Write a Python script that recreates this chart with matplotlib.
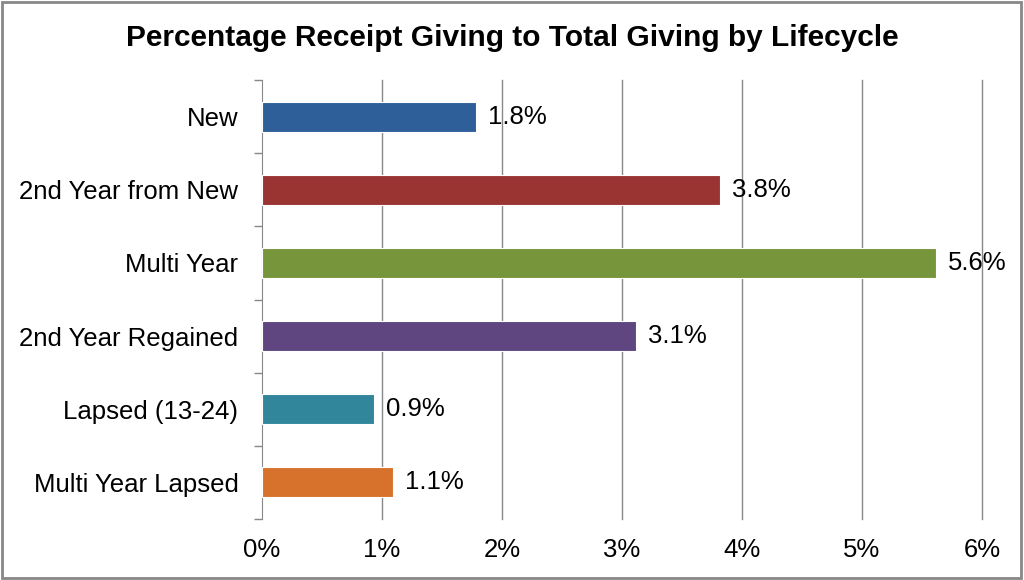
import matplotlib
matplotlib.use("Agg")
import matplotlib.pyplot as plt
from matplotlib.patches import Rectangle
from matplotlib.ticker import FixedLocator

plt.rcParams["font.family"] = ["Liberation Sans", "DejaVu Sans"]

categories = ["New", "2nd Year from New", "Multi Year", "2nd Year Regained",
              "Lapsed (13-24)", "Multi Year Lapsed"]
values = [1.78, 3.82, 5.62, 3.12, 0.93, 1.09]
colors = ["#2F5F98", "#9A3432", "#77963B", "#5F4680", "#31869B", "#D6722B"]
xticks = [0, 1, 2, 3, 4, 5, 6]

fig = plt.figure(figsize=(10.24, 5.8), dpi=100)
ax = fig.add_axes([262/1024, 1 - 519/580, 720/1024, 439/580])

y = list(range(len(categories)))
ax.barh(y, values, height=0.41, color=colors, edgecolor="white", linewidth=0.8, zorder=3)
for yi, v in zip(y, values):
    ax.text(v + 0.1, yi, f"{v:.1f}%", va="center", ha="left", fontsize=18.5, zorder=4)

ax.set_xlim(0, 6)
ax.set_ylim(len(categories) - 0.5, -0.5)
ax.set_xticks(xticks)
ax.set_xticklabels([f"{t}%" for t in xticks], fontsize=18.5)
ax.set_yticks(y)
ax.set_yticklabels(categories, fontsize=18.5)
ax.tick_params(axis="x", length=0, pad=14)
ax.tick_params(axis="y", which="major", length=0, pad=17)
ax.yaxis.set_minor_locator(FixedLocator([i - 0.5 for i in range(len(categories) + 1)]))
ax.tick_params(axis="y", which="minor", length=6, color="#888888", width=1)
for t in xticks[1:]:
    ax.axvline(t, color="#888888", lw=1, zorder=1, clip_on=False)
for s in ["top", "right", "bottom"]:
    ax.spines[s].set_visible(False)
ax.spines["left"].set_color("#888888")

fig.text(0.5, 1 - 38/580, "Percentage Receipt Giving to Total Giving by Lifecycle",
         ha="center", va="center", fontsize=21.5, fontweight="bold")
fig.patches.append(Rectangle((0.002, 0.004), 0.995, 0.993, transform=fig.transFigure,
                             fill=False, edgecolor="#888888", lw=2))

fig.savefig("out.png", dpi=100)
